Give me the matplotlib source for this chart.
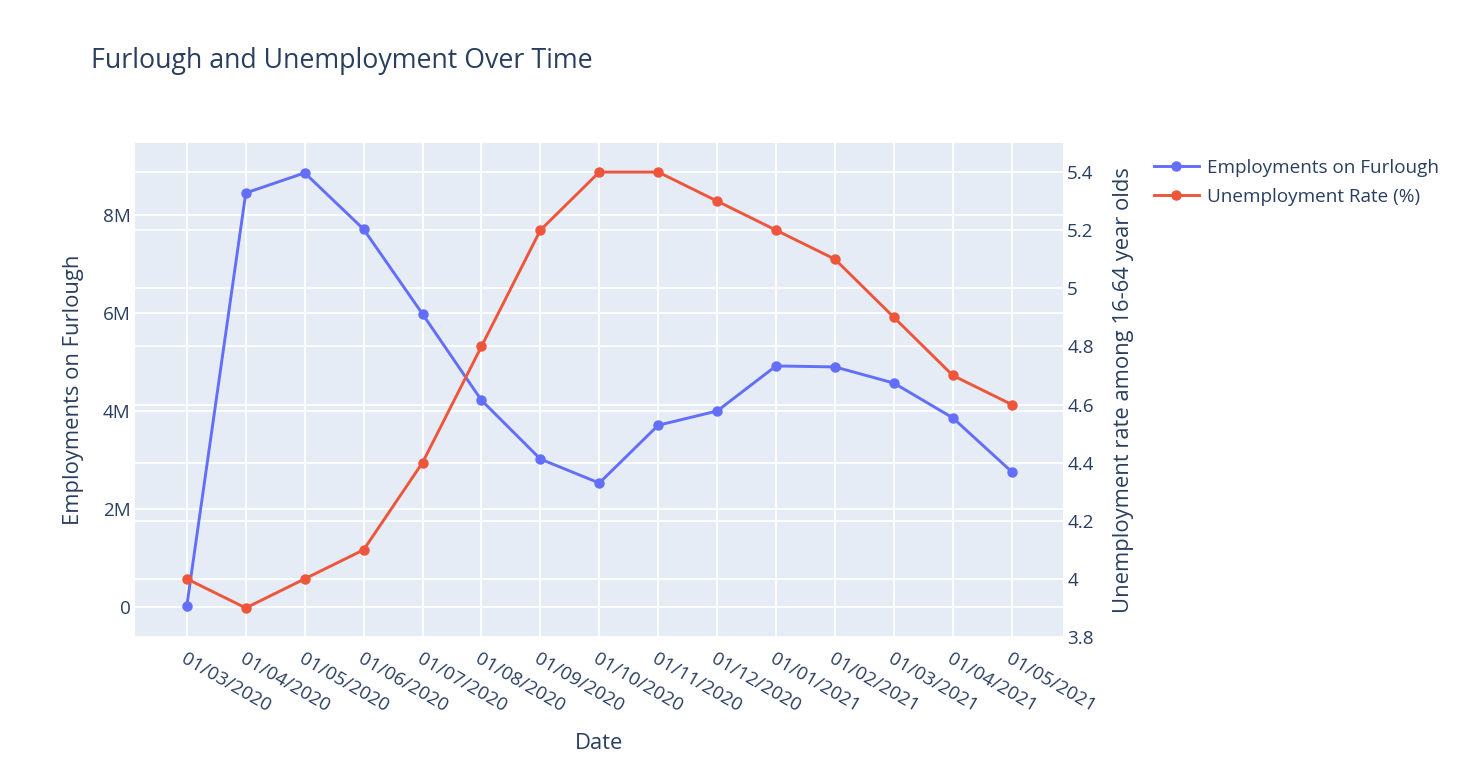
import matplotlib
matplotlib.use("Agg")
import matplotlib.pyplot as plt
from matplotlib.ticker import FuncFormatter

dates = ["01/03/2020", "01/04/2020", "01/05/2020", "01/06/2020", "01/07/2020",
         "01/08/2020", "01/09/2020", "01/10/2020", "01/11/2020", "01/12/2020",
         "01/01/2021", "01/02/2021", "01/03/2021", "01/04/2021", "01/05/2021"]
furlough = [0.03e6, 8.45e6, 8.86e6, 7.71e6, 5.98e6, 4.22e6, 3.02e6, 2.53e6,
            3.71e6, 4.00e6, 4.92e6, 4.90e6, 4.57e6, 3.86e6, 2.76e6]
unemployment = [4.0, 3.9, 4.0, 4.1, 4.4, 4.8, 5.2, 5.4, 5.4, 5.3, 5.2, 5.1, 4.9, 4.7, 4.6]

BLUE = "#636efa"
RED = "#EF553B"
BG = "#E5ECF6"
TXT = "#2a3f5f"

plt.rcParams['font.family'] = ['Open Sans', 'DejaVu Sans']

W, H = 1467, 768
fig = plt.figure(figsize=(W / 100, H / 100), dpi=100)
L, R, T, B = 135, 1063, 143, 637
ax = fig.add_axes([L / W, 1 - B / H, (R - L) / W, (B - T) / H])
ax.set_facecolor(BG)
ax2 = ax.twinx()

x = list(range(len(dates)))

TICK = 13.6
for a in (ax, ax2):
    for s in a.spines.values():
        s.set_visible(False)
    a.tick_params(length=0, colors=TXT, labelsize=TICK)

ax.set_xlim(-0.88, 14.87)
ax.set_ylim(-0.612e6, 9.47e6)
ax2.set_ylim(3.8, 5.5)

ax.set_yticks([0, 2e6, 4e6, 6e6, 8e6])
ax.yaxis.set_major_formatter(FuncFormatter(lambda v, p: "0" if v == 0 else f"{int(v/1e6)}M"))
ax2.set_yticks([3.8, 4.0, 4.2, 4.4, 4.6, 4.8, 5.0, 5.2, 5.4])
ax2.yaxis.set_major_formatter(FuncFormatter(lambda v, p: f"{v:g}"))

ax.set_xticks(x)
ax.set_xticklabels(dates, rotation=-30, ha='left', rotation_mode='anchor')
ax.tick_params(axis='x', pad=9)
ax.tick_params(axis='y', pad=3)
ax2.tick_params(axis='y', pad=3)

ax.grid(True, color='white', linewidth=1.3)
ax.set_axisbelow(True)
# right-axis gridlines drawn on main axes behind data
for v in ax2.get_yticks():
    yv = ax.get_ylim()[0] + (v - 3.8) / (5.5 - 3.8) * (ax.get_ylim()[1] - ax.get_ylim()[0])
    ax.axhline(yv, color='white', linewidth=1.3, zorder=0.5)

l1, = ax.plot(x, furlough, color=BLUE, linewidth=2.1, marker='o', markersize=6.5,
              label="Employments on Furlough", zorder=3, clip_on=False)
l2, = ax2.plot(x, unemployment, color=RED, linewidth=2.1, marker='o', markersize=6.5,
               label="Unemployment Rate (%)", zorder=3, clip_on=False)

AX = 15.8
ax.set_xlabel("Date", color=TXT, fontsize=AX, labelpad=13)
ax.set_ylabel("Employments on Furlough", color=TXT, fontsize=AX, labelpad=14)
ax2.set_ylabel("Unemployment rate among 16-64 year olds", color=TXT, fontsize=AX, labelpad=14)

fig.text(91 / W, 1 - 61 / H, "Furlough and Unemployment Over Time", color=TXT,
         fontsize=19.3, va='center', ha='left')

fig.legend(handles=[l1, l2], loc='upper left', bbox_to_anchor=(1146 / W, 1 - 151 / H),
           frameon=False, fontsize=TICK, labelcolor=TXT, handlelength=2.4,
           handletextpad=0.45, borderaxespad=0, labelspacing=0.6)

fig.savefig("out.png", dpi=100, facecolor='white')
